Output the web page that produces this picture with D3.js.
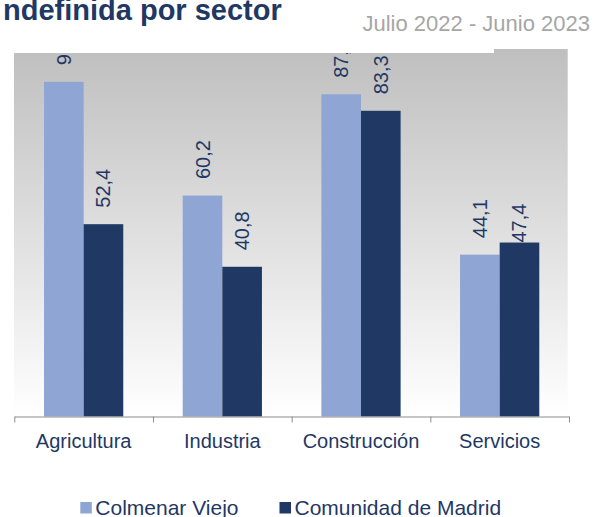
<!DOCTYPE html>
<html>
<head>
<meta charset="utf-8">
<script src="https://cdn.jsdelivr.net/npm/d3@7"></script>
<style>
	html, body { margin: 0; padding: 0; background: #fff; }
	svg { display: block; font-family: "Liberation Sans", Arial, sans-serif; }
</style>
</head>
<body>
<div id="chart"></div>
<script>
// chart values
var categories = ['Agricultura', 'Industria', 'Construcción', 'Servicios'];
var seriesNames = ['Colmenar Viejo', 'Comunidad de Madrid'];
var colmenarValues = [91.2, 60.2, 87.8, 44.1];
var madridValues = [52.4, 40.8, 83.3, 47.4];
var titleText = 'ndefinida por sector';
var periodText = 'Julio 2022 - Junio 2023';

var width = 611,
	height = 517,
	colors = ['#8fa5d4', '#1f3864'],
	textColor = '#1f3864';

var plot = { left: 14.3, right: 569, top: 49.5, bottom: 416.5 };

var svg = d3.select('#chart').append('svg')
	.attr('width', width)
	.attr('height', height);

// background gradient of the plot area
var grad = svg.append('defs').append('linearGradient')
	.attr('id', 'bg-grad')
	.attr('x1', 0).attr('y1', 0)
	.attr('x2', 0).attr('y2', 1);
grad.append('stop').attr('offset', '0%').attr('stop-color', '#bfbfbf');
grad.append('stop').attr('offset', '100%').attr('stop-color', '#ffffff');

svg.append('rect')
	.attr('x', plot.left - 0.3)
	.attr('y', plot.top - 0.5)
	.attr('width', plot.right - plot.left - 1)
	.attr('height', plot.bottom - plot.top)
	.attr('fill', 'url(#bg-grad)');

var x0 = d3.scaleBand()
	.domain(categories)
	.range([plot.left, plot.right]);

// gap width 150% of a bar
var x1 = d3.scaleBand()
	.domain(seriesNames)
	.range([0, x0.bandwidth()])
	.paddingOuter(0.75);

var y = d3.scaleLinear()
	.domain([0, 100])
	.range([plot.bottom, plot.top]);

var rows = categories.map(function(c, i) {
	return { cat: c, values: [colmenarValues[i], madridValues[i]] };
});

var groups = svg.selectAll('g.group')
	.data(rows)
	.enter()
	.append('g')
	.attr('class', 'group')
	.attr('transform', function(d) { return 'translate(' + x0(d.cat) + ',0)'; });

groups.selectAll('rect')
	.data(function(d) {
		return d.values.map(function(v, j) { return { cat: d.cat, s: j, v: v }; });
	})
	.enter()
	.append('rect')
	.attr('x', function(d) { return x1(seriesNames[d.s]); })
	.attr('y', function(d) { return y(d.v); })
	.attr('width', x1.bandwidth())
	.attr('height', function(d) { return y(0) - y(d.v); })
	.attr('fill', function(d) { return colors[d.s]; });

// data labels, rotated, reading upwards
var fmt = function(v) { return d3.format('.1f')(v).replace('.', ','); };

groups.selectAll('text.val')
	.data(function(d) {
		return d.values.map(function(v, j) { return { cat: d.cat, s: j, v: v }; });
	})
	.enter()
	.append('text')
	.attr('class', 'val')
	.attr('transform', function(d) {
		var cx = x1(seriesNames[d.s]) + x1.bandwidth() / 2,
			gap = 16.5;
		// the Servicios / Madrid label sits lower, touching its bar
		if (d.cat === 'Servicios' && d.s === 1) gap = 0;
		return 'translate(' + cx + ',' + (y(d.v) - gap) + ') rotate(-90)';
	})
	.attr('dy', '0.35em')
	.attr('font-size', 20)
	.attr('fill', textColor)
	.text(function(d) { return fmt(d.v); });

// axis line with ticks between categories
var tickScale = d3.scaleLinear().domain([0, categories.length]).range([plot.left, plot.right]);
var axisG = svg.append('g')
	.attr('transform', 'translate(0,' + plot.bottom + ')')
	.call(d3.axisBottom(tickScale)
		.tickValues(d3.range(categories.length + 1))
		.tickFormat('')
		.tickSize(6)
		.tickSizeOuter(0));
axisG.selectAll('path, line').attr('stroke', '#8c8c8c');

var labelG = svg.append('g')
	.attr('transform', 'translate(0,' + plot.bottom + ')')
	.call(d3.axisBottom(x0).tickSize(0).tickPadding(0));
labelG.select('.domain').remove();
labelG.selectAll('text')
	.attr('y', 31.5)
	.attr('dy', 0)
	.attr('font-size', 20)
	.attr('font-family', '"Liberation Sans", Arial, sans-serif')
	.attr('fill', textColor);

// white header box that covers the top of the plot
svg.append('rect')
	.attr('x', 0).attr('y', 0)
	.attr('width', 494).attr('height', 53)
	.attr('fill', '#fff');

svg.append('text')
	.attr('x', 3)
	.attr('y', 19.5)
	.attr('font-size', 29)
	.attr('font-weight', 'bold')
	.attr('fill', textColor)
	.text(titleText);

svg.append('text')
	.attr('x', 362.5)
	.attr('y', 30.5)
	.attr('font-size', 22)
	.attr('fill', '#a6a6a6')
	.text(periodText);

// legend
var legend = svg.append('g');
var lx = 80.3;
seriesNames.forEach(function(name, i) {
	legend.append('rect')
		.attr('x', lx)
		.attr('y', 502)
		.attr('width', 11.5)
		.attr('height', 11.5)
		.attr('fill', colors[i]);
	var t = legend.append('text')
		.attr('x', lx + 15)
		.attr('y', 515)
		.attr('font-size', 21)
		.attr('fill', textColor)
		.text(name);
	lx += 15 + t.node().getComputedTextLength() + 41;
});
</script>
</body>
</html>
